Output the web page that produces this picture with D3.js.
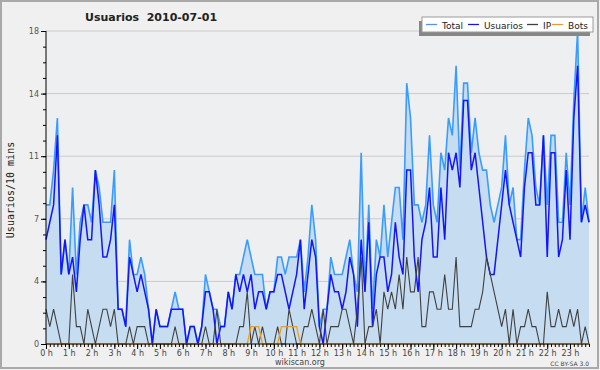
<!DOCTYPE html>
<html>
<head>
<meta charset="utf-8">
<script src="https://cdn.jsdelivr.net/npm/d3@7"></script>
<style>
body { margin: 0; background: #f0f0f0; }
svg { display: block; font-family: "DejaVu Sans", sans-serif; }
</style>
</head>
<body>
<div id="chart"></div>
<script>
// values per 10 minutes, 144 slots (0 h .. 23 h 50)
var total = [8,8,10,13,4,6,4,9,4,7,8,8,7,10,9,7,7,7,10,2,2,1,6,4,
  4,5,4,2,0,2,1,1,1,2,3,2,2,0,1,1,0,1,4,3,2,2,1,1,
  3,2,4,4,5,6,5,4,4,4,2,3,3,5,5,4,5,5,5,6,3,5,8,6,
  1,2,2,5,4,4,4,5,6,4,3,11,3,8,2,6,5,8,5,7,9,9,6,15,
  13,8,8,7,8,12,8,7,11,10,13,12,16,10,15,15,11,13,11,10,10,8,7,8,
  9,12,8,9,6,6,10,13,12,9,8,12,8,12,12,7,7,11,8,14,18,7,9,7];
var usuarios = [6,7,8,12,4,6,4,5,3,6,8,6,6,10,8,5,5,6,8,2,2,1,5,4,
  3,4,3,2,0,2,1,1,1,2,2,2,2,0,1,1,0,1,3,3,2,0,1,1,
  3,2,4,3,4,3,4,2,3,3,2,3,3,4,4,3,2,3,4,6,2,4,6,5,
  1,0,2,4,3,3,2,3,5,4,1,6,3,7,1,4,5,5,3,4,7,5,4,10,
  10,5,3,6,7,9,5,5,9,6,11,10,11,9,14,14,10,11,9,7,5,4,4,6,
  8,10,8,7,6,5,9,11,11,8,8,12,5,11,11,5,6,10,6,13,16,7,8,7];
var ip = [2,1,2,1,0,0,0,4,1,1,0,2,1,0,1,2,2,1,2,0,0,0,1,0,
  1,1,1,0,0,0,0,0,0,0,1,0,0,0,0,0,0,0,1,0,0,2,0,0,
  0,0,0,1,1,3,0,1,0,1,0,0,0,1,0,0,2,1,0,0,1,1,2,1,
  0,2,0,1,1,1,2,2,1,0,2,5,0,1,1,2,0,3,2,3,2,4,2,5,
  3,3,5,1,1,3,3,2,2,4,2,2,5,1,1,1,1,2,2,3,5,4,3,2,
  1,2,0,2,0,1,1,2,1,1,0,0,3,1,1,2,1,1,2,1,2,0,1,0];
var bots = [0,0,0,0,0,0,0,0,0,0,0,0,0,0,0,0,0,0,0,0,0,0,0,0,
  0,0,0,0,0,0,0,0,0,0,0,0,0,0,0,0,0,0,0,0,0,0,0,0,
  0,0,0,0,0,0,1,1,1,0,0,0,0,0,1,1,1,1,1,0,0,0,0,0,
  0,0,0,0,0,0,0,0,0,0,0,0,0,0,0,0,0,0,0,0,0,0,0,0,
  0,0,0,0,0,0,0,0,0,0,0,0,0,0,0,0,0,0,0,0,0,0,0,0,
  0,0,0,0,0,0,0,0,0,0,0,0,0,0,0,0,0,0,0,0,0,0,0,0];
var hours = d3.range(0, 24);
var yTicks = [0, 3.6, 7.2, 10.8, 14.4, 18];
var series = [
  {name: "Total", values: total, color: "#3a9cff", w: 1.6},
  {name: "Usuarios", values: usuarios, color: "#1414ff", w: 1.5},
  {name: "IP", values: ip, color: "#404040", w: 1.1},
  {name: "Bots", values: bots, color: "#ff9a00", w: 1.2}
];

var margin = {top: 31, right: 11, bottom: 26, left: 46},
    width = 600 - margin.left - margin.right,
    height = 370 - margin.top - margin.bottom;

var x = d3.scaleLinear().domain([0, 143]).range([0, width]);
var y = d3.scaleLinear().domain([0, 18]).range([height, 0]);

var root = d3.select("#chart").append("svg")
    .attr("width", 600)
    .attr("height", 370);

root.append("rect")
    .attr("x", 1).attr("y", 1)
    .attr("width", 597).attr("height", 367)
    .attr("fill", "#f0f0f0")
    .attr("stroke", "#a9a9a9")
    .attr("stroke-width", 2);

var svg = root.append("g")
    .attr("transform", "translate(" + margin.left + "," + margin.top + ")");

svg.append("rect")
    .attr("width", width).attr("height", height)
    .attr("fill", "#eeeff1");

// grid
svg.selectAll(".grid")
    .data(yTicks.slice(1))
    .enter().append("line")
    .attr("x1", 0).attr("x2", width)
    .attr("y1", function(d) { return y(d); })
    .attr("y2", function(d) { return y(d); })
    .attr("stroke", "#cacaca")
    .attr("stroke-width", 1);

// area under total
var area = d3.area()
    .x(function(d, i) { return x(i); })
    .y0(height)
    .y1(function(d) { return y(d); });

svg.append("path")
    .datum(total)
    .attr("fill", "#c5dcf1")
    .attr("d", area);

var line = d3.line()
    .x(function(d, i) { return x(i); })
    .y(function(d) { return y(d); });

series.forEach(function(s) {
    svg.append("path")
        .datum(s.values)
        .attr("fill", "none")
        .attr("stroke", s.color)
        .attr("stroke-width", s.w)
        .attr("stroke-linejoin", "miter")
        .attr("d", line);
});

// y axis
var yMinor = svg.append("g")
    .call(d3.axisLeft(y).tickValues(d3.range(0, 18.01, 0.9)).tickSize(3).tickFormat(""));
yMinor.select(".domain").remove();

var yAxis = svg.append("g")
    .call(d3.axisLeft(y).tickValues(yTicks).tickSize(5).tickPadding(2)
      .tickFormat(function(d) { return Math.round(d); }));
yAxis.selectAll("text").attr("font-size", 8).attr("fill", "#555")
    .attr("font-family", "DejaVu Sans");
yAxis.select(".domain").attr("d", "M0," + height + "V0");

// x axis
var xMinor = svg.append("g")
    .attr("transform", "translate(0," + height + ")")
    .call(d3.axisBottom(x).tickValues(d3.range(0, 144)).tickSize(3).tickFormat(""));
xMinor.select(".domain").attr("d", "M0,0H" + width);

var xAxis = svg.append("g")
    .attr("transform", "translate(0," + height + ")")
    .call(d3.axisBottom(x).tickValues(hours.map(function(h) { return h * 6; }))
      .tickSize(5).tickPadding(1)
      .tickFormat(function(d) { return (d / 6) + " h"; }));
xAxis.select(".domain").remove();
xAxis.selectAll("text").attr("font-size", 8).attr("fill", "#444")
    .attr("font-family", "DejaVu Sans");

// title
root.append("text")
    .attr("x", 85).attr("y", 21)
    .attr("font-size", 11).attr("font-weight", "bold")
    .attr("fill", "#222")
    .attr("xml:space", "preserve")
    .text("Usuarios  2010-07-01");

// y label
root.append("text")
    .attr("transform", "translate(14,190) rotate(-90)")
    .attr("text-anchor", "middle")
    .attr("font-family", "DejaVu Sans Mono")
    .attr("font-size", 10)
    .attr("fill", "#222")
    .text("Usuarios/10 mins");

// legend
var lg = root.append("g").attr("transform", "translate(422,17)");
lg.append("rect").attr("x", -3).attr("y", 4).attr("width", 171).attr("height", 15).attr("fill", "#878787");
lg.append("rect").attr("x", 0).attr("y", 0).attr("width", 171).attr("height", 15)
    .attr("fill", "#fff").attr("stroke", "#9a9a9a");
var lx = [4, 46, 105, 130];
series.forEach(function(s, i) {
    lg.append("line")
        .attr("x1", lx[i]).attr("x2", lx[i] + 11)
        .attr("y1", 7.5).attr("y2", 7.5)
        .attr("stroke", s.color).attr("stroke-width", 1.3);
    lg.append("text")
        .attr("x", lx[i] + 16).attr("y", 11.5)
        .attr("font-size", 9).attr("fill", "#222")
        .text(s.name);
});

// footer
root.append("text")
    .attr("x", 300).attr("y", 365)
    .attr("text-anchor", "middle")
    .attr("font-size", 8).attr("fill", "#444")
    .text("wikiscan.org");

root.append("text")
    .attr("x", 589).attr("y", 366)
    .attr("text-anchor", "end")
    .attr("font-size", 6).attr("fill", "#444")
    .text("CC BY-SA 3.0");
</script>
</body>
</html>
